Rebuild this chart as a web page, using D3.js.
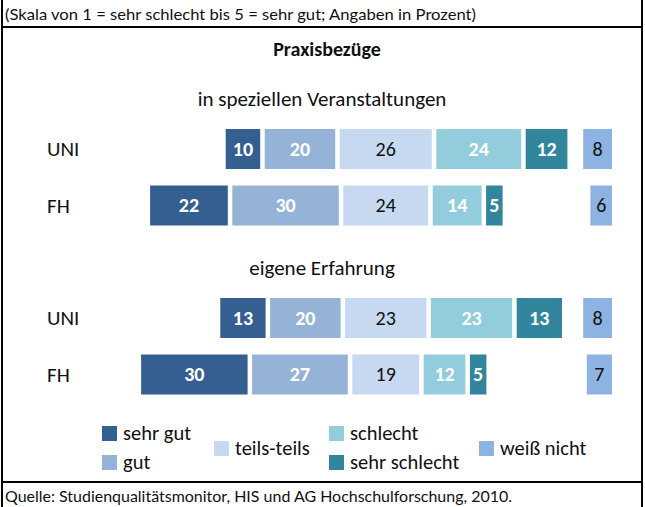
<!DOCTYPE html>
<meta charset="utf-8">
<style>
body { margin: 0; background: #fff; }
text { font-family: Carlito, Calibri, Lato, "Noto Sans", sans-serif; fill: #111; }
.note { font-family: "Liberation Sans Narrow", Lato, "Noto Sans", sans-serif; font-size: 16px; }
</style>
<svg width="645" height="507"></svg>
<script src="https://d3js.org/d3.v7.min.js"></script>
<script>

// categories, in the order of the bar segments
var categories = ["sehr gut", "gut", "teils-teils", "schlecht", "sehr schlecht"];
var extraCategory = "weiß nicht";
var rows = ["UNI", "FH"];
var groups = ["in speziellen Veranstaltungen", "eigene Erfahrung"];

// values in percent: [sehr gut, gut, teils-teils, schlecht, sehr schlecht]
var specialUni = [10, 20, 26, 24, 12];
var specialFh = [22, 30, 24, 14, 5];
var ownUni = [13, 20, 23, 23, 13];
var ownFh = [30, 27, 19, 12, 5];
// weiß nicht
var unknownSpecial = [8, 6];
var unknownOwn = [8, 7];

var colors = ["#365f91", "#95b3d7", "#c6d9f1", "#93cddd", "#31859c"];
var unknownColor = "#8db3e2";
var whiteLabel = [true, true, false, true, true];

var svg = d3.select("svg");

var groupData = [
  {title: groups[0], top: 129, values: [specialUni, specialFh], unknown: unknownSpecial},
  {title: groups[1], top: 298, values: [ownUni, ownFh], unknown: unknownOwn}
];

// diverging scale, 0 = middle of "teils-teils"
var x = d3.scaleLinear().domain([-50, 50]).range([205, 565]);
var gap = 3;            // white gap between segments
var unknownRight = 612;

var y = d3.scaleBand()
    .domain(rows)
    .range([0, 96.5])
    .paddingInner(0.292);

// frame
var frame = svg.append("g").attr("stroke", "#000").attr("stroke-width", 2);
frame.append("line").attr("x1", 2).attr("x2", 2).attr("y1", 0).attr("y2", 507);
frame.append("line").attr("x1", 642).attr("x2", 642).attr("y1", 0).attr("y2", 507);
frame.append("line").attr("x1", 2).attr("x2", 642).attr("y1", 27).attr("y2", 27);
frame.append("line").attr("x1", 2).attr("x2", 642).attr("y1", 482).attr("y2", 482);

svg.append("text").attr("class", "note")
    .attr("x", 5).attr("y", 20)
    .attr("textLength", 471).attr("lengthAdjust", "spacingAndGlyphs")
    .text("(Skala von 1 = sehr schlecht bis 5 = sehr gut; Angaben in Prozent)");

svg.append("text").attr("class", "note")
    .attr("x", 5).attr("y", 502)
    .attr("textLength", 507).attr("lengthAdjust", "spacingAndGlyphs")
    .text("Quelle: Studienqualitätsmonitor, HIS und AG Hochschulforschung, 2010.");

svg.append("text")
    .attr("x", 327).attr("y", 56)
    .attr("text-anchor", "middle")
    .style("font-size", "20px").style("font-weight", "bold")
    .text("Praxisbezüge");

groupData.forEach(function(grp) {
  svg.append("text")
      .attr("x", 322).attr("y", grp.top - 23)
      .attr("text-anchor", "middle")
      .style("font-size", "21px")
      .text(grp.title);

  var g = svg.append("g").attr("transform", "translate(0," + grp.top + ")");

  grp.values.forEach(function(vals, r) {
    var start = -(vals[0] + vals[1] + vals[2] / 2);
    var segs = vals.map(function(v, i) {
      var s = start;
      start += v;
      return {v: v, x0: s, x1: start, i: i};
    });
    // keep "teils-teils" centred, push the others out by the gaps
    var left = function(d) { return x(d.x0) + (d.i - 2) * gap + gap / 2; };
    var wid = function(d) { return x(d.x1) - x(d.x0) - gap / 2; };

    var row = g.append("g").attr("transform", "translate(0," + y(rows[r]) + ")");

    row.append("text")
        .attr("x", 47).attr("y", y.bandwidth() / 2)
        .attr("dy", "0.35em")
        .style("font-size", "21px")
        .text(rows[r]);

    row.selectAll("rect.seg")
      .data(segs)
      .enter().append("rect")
        .attr("class", "seg")
        .attr("x", left)
        .attr("y", 0)
        .attr("width", wid)
        .attr("height", y.bandwidth())
        .attr("fill", function(d) { return colors[d.i]; });

    row.selectAll("text.val")
      .data(segs)
      .enter().append("text")
        .attr("class", "val")
        .attr("x", function(d) { return left(d) + wid(d) / 2; })
        .attr("y", y.bandwidth() / 2)
        .attr("dy", "0.35em")
        .attr("text-anchor", "middle")
        .style("font-size", "20px")
        .style("font-weight", function(d) { return whiteLabel[d.i] ? "bold" : "normal"; })
        .style("fill", function(d) { return whiteLabel[d.i] ? "#fff" : "#111"; })
        .text(function(d) { return d.v; });

    var u = grp.unknown[r];
    var uw = x(u) - x(0);
    row.append("rect")
        .attr("x", unknownRight - uw)
        .attr("y", 0)
        .attr("width", uw)
        .attr("height", y.bandwidth())
        .attr("fill", unknownColor);
    row.append("text")
        .attr("x", unknownRight - uw / 2)
        .attr("y", y.bandwidth() / 2)
        .attr("dy", "0.35em")
        .attr("text-anchor", "middle")
        .style("font-size", "20px")
        .text(u);
  });
});

// legend
var legendItems = [
  {name: categories[0], color: colors[0], x: 102, y: 426},
  {name: categories[1], color: colors[1], x: 102, y: 455},
  {name: categories[2], color: colors[2], x: 214, y: 441},
  {name: categories[3], color: colors[3], x: 329, y: 426},
  {name: categories[4], color: colors[4], x: 329, y: 455},
  {name: extraCategory, color: unknownColor, x: 479, y: 441}
];

var legend = svg.selectAll("g.legend")
  .data(legendItems)
  .enter().append("g")
    .attr("class", "legend")
    .attr("transform", function(d) { return "translate(" + d.x + "," + d.y + ")"; });

legend.append("rect")
    .attr("width", 15).attr("height", 15)
    .attr("fill", function(d) { return d.color; });

legend.append("text")
    .attr("x", 21).attr("y", 7)
    .attr("dy", "0.35em")
    .style("font-size", "20.5px")
    .text(function(d) { return d.name; });

</script>
